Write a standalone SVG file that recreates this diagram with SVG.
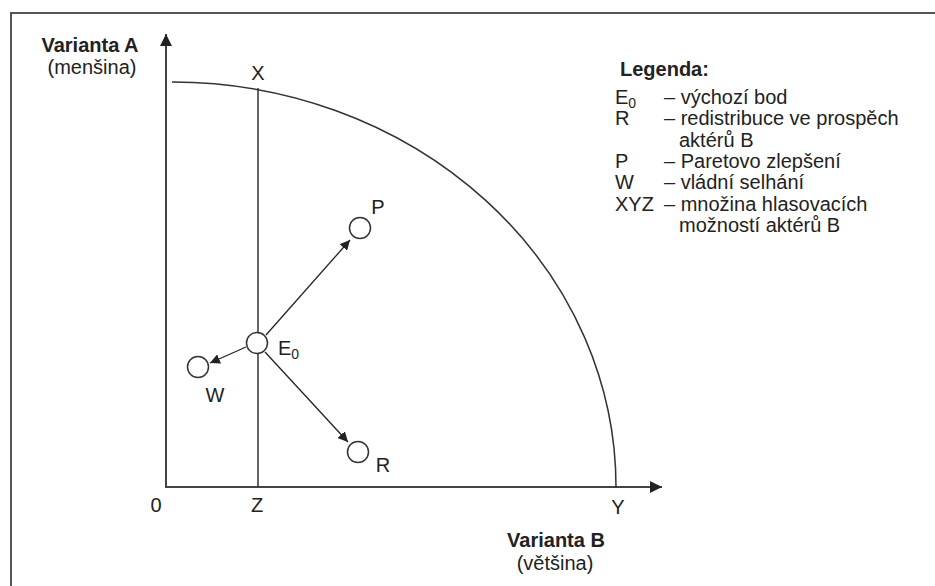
<svg xmlns="http://www.w3.org/2000/svg" width="935" height="586" viewBox="0 0 935 586">
<defs>
<marker id="ah" viewBox="0 0 10 10" refX="10" refY="5" markerWidth="10" markerHeight="10" markerUnits="userSpaceOnUse" orient="auto">
<path d="M0,0 L10,5 L0,10 z" fill="#222"/>
</marker>
<marker id="ax" viewBox="0 0 12 12" refX="12" refY="6" markerWidth="12" markerHeight="12" markerUnits="userSpaceOnUse" orient="auto">
<path d="M0,0 L12,6 L0,12 z" fill="#222"/>
</marker>
</defs>
<style>
text{font-family:"Liberation Sans",Arial,sans-serif;fill:#222;font-size:20px}
.b{font-weight:bold}
.axis{stroke:#444;stroke-width:2;fill:none}
.ln{stroke:#333;stroke-width:1.5;fill:none}
.node{fill:#fff;stroke:#333;stroke-width:1.5}
.arr{stroke:#222;stroke-width:1.3;fill:none;marker-end:url(#ah)}
.sub{font-size:14px}
</style>
<rect width="935" height="586" fill="#fff"/>
<rect x="11" y="13" width="950" height="600" fill="none" stroke="#555" stroke-width="2"/>
<g id="axes">
<line class="axis" x1="166" y1="488" x2="166" y2="34" marker-end="url(#ax)"/>
<line class="axis" x1="165" y1="487" x2="662" y2="487" marker-end="url(#ax)"/>
<path class="ln" d="M172,82 A444,405 0 0 1 616,487"/>
<line class="ln" x1="258" y1="88" x2="258" y2="487"/>
</g>
<g id="labels">
<text class="b" x="90" y="52" text-anchor="middle">Varianta A</text>
<text x="92" y="74" text-anchor="middle">(menšina)</text>
<text x="258" y="80" text-anchor="middle">X</text>
<text x="156" y="512" text-anchor="middle">0</text>
<text x="257" y="512" text-anchor="middle">Z</text>
<text x="618" y="514" text-anchor="middle">Y</text>
<text class="b" x="556" y="547" text-anchor="middle">Varianta B</text>
<text x="555" y="570" text-anchor="middle">(většina)</text>
</g>
<g id="connectors">
<line class="arr" x1="266" y1="335" x2="350" y2="240"/>
<line class="arr" x1="246" y1="347" x2="210" y2="363"/>
<line class="arr" x1="265" y1="352" x2="348" y2="442"/>
</g>
<g id="node-E0">
<circle class="node" cx="257" cy="343" r="10.5"/>
<text x="278" y="355">E<tspan class="sub" dy="4">0</tspan></text>
</g>
<g id="node-P">
<circle class="node" cx="360" cy="228" r="10.5"/>
<text x="378" y="214" text-anchor="middle">P</text>
</g>
<g id="node-W">
<circle class="node" cx="198" cy="367" r="10.5"/>
<text x="215" y="402" text-anchor="middle">W</text>
</g>
<g id="node-R">
<circle class="node" cx="358" cy="452" r="10.5"/>
<text x="383" y="472" text-anchor="middle">R</text>
</g>
<g id="legend">
<text class="b" x="620" y="76">Legenda:</text>
<text x="615" y="104">E<tspan class="sub" dy="4">0</tspan></text>
<text x="664" y="104">– výchozí bod</text>
<text x="615" y="125">R</text>
<text x="664" y="125">– redistribuce ve prospěch</text>
<text x="679" y="147">aktérů B</text>
<text x="615" y="168">P</text>
<text x="664" y="168">– Paretovo zlepšení</text>
<text x="615" y="189">W</text>
<text x="664" y="189">– vládní selhání</text>
<text x="615" y="211">XYZ</text>
<text x="664" y="211">– množina hlasovacích</text>
<text x="679" y="232">možností aktérů B</text>
</g>
</svg>
